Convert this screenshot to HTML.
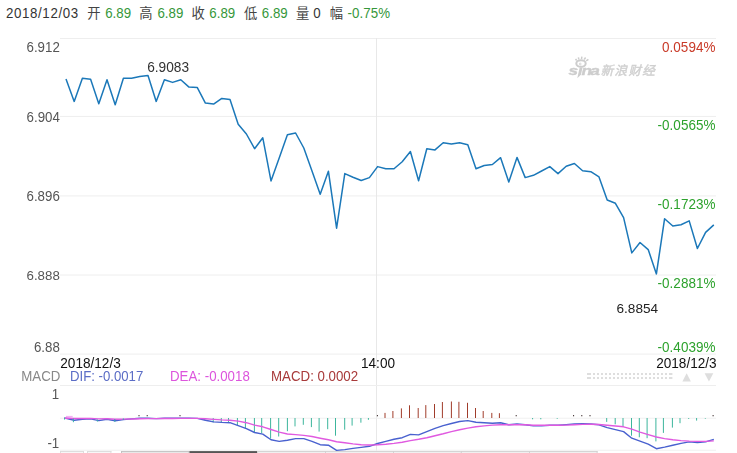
<!DOCTYPE html>
<html><head><meta charset="utf-8"><title>chart</title>
<style>
html,body{margin:0;padding:0;background:#fff;}
body{width:737px;height:453px;overflow:hidden;font-family:"Liberation Sans",sans-serif;}
svg{display:block;}
#chart{will-change:transform;}
text{font-family:"Liberation Sans",sans-serif;font-size:13.3px;}
</style></head><body>
<svg id="hdr" width="737" height="30" viewBox="0 0 737 30">
<text transform="translate(6 17.8) scale(1 1.07)" fill="#333" style="font-size:13.3px" letter-spacing="0.62">2018/12/03</text>
<text x="87.3" y="18.2" fill="#444" style="font-size:13.3px;font-family:'Liberation Sans','Noto Sans CJK SC',sans-serif">开</text>
<text transform="translate(105.2 17.8) scale(1 1.07)" fill="#35973a" style="font-size:13.3px">6.89</text>
<text x="139.3" y="18.2" fill="#444" style="font-size:13.3px;font-family:'Liberation Sans','Noto Sans CJK SC',sans-serif">高</text>
<text transform="translate(157.4 17.8) scale(1 1.07)" fill="#35973a" style="font-size:13.3px">6.89</text>
<text x="191.5" y="18.2" fill="#444" style="font-size:13.3px;font-family:'Liberation Sans','Noto Sans CJK SC',sans-serif">收</text>
<text transform="translate(209.3 17.8) scale(1 1.07)" fill="#35973a" style="font-size:13.3px">6.89</text>
<text x="244" y="18.2" fill="#444" style="font-size:13.3px;font-family:'Liberation Sans','Noto Sans CJK SC',sans-serif">低</text>
<text transform="translate(261.8 17.8) scale(1 1.07)" fill="#35973a" style="font-size:13.3px">6.89</text>
<text x="296" y="18.2" fill="#444" style="font-size:13.3px;font-family:'Liberation Sans','Noto Sans CJK SC',sans-serif">量</text>
<text transform="translate(313.3 17.8) scale(1 1.07)" fill="#333" style="font-size:13.3px">0</text>
<text x="329.8" y="18.2" fill="#444" style="font-size:13.3px;font-family:'Liberation Sans','Noto Sans CJK SC',sans-serif">幅</text>
<text transform="translate(347.6 17.8) scale(1 1.07)" fill="#35973a" style="font-size:13.3px" letter-spacing="0.05">-0.75%</text>
</svg>
<svg id="chart" width="737" height="423" viewBox="0 30 737 423">
<line x1="60" x2="716" y1="38.5" y2="38.5" stroke="#eeeeee" stroke-width="1"/>
<line x1="60" x2="716" y1="116.4" y2="116.4" stroke="#eeeeee" stroke-width="1"/>
<line x1="60" x2="716" y1="195.9" y2="195.9" stroke="#eeeeee" stroke-width="1"/>
<line x1="60" x2="716" y1="275.0" y2="275.0" stroke="#eeeeee" stroke-width="1"/>
<line x1="60" x2="716" y1="354.1" y2="354.1" stroke="#eeeeee" stroke-width="1"/>
<line x1="376.5" x2="376.5" y1="38" y2="451" stroke="#e8e8e8" stroke-width="1"/>
<line x1="60" x2="716" y1="385.5" y2="385.5" stroke="#eeeeee" stroke-width="1"/>
<line x1="60" x2="716" y1="418.2" y2="418.2" stroke="#f0f0f0" stroke-width="1"/>
<line x1="60" x2="716" y1="450.2" y2="450.2" stroke="#f0f0f0" stroke-width="1"/>
<text transform="translate(59.80 52.00) scale(1 1.090)" fill="#555" text-anchor="end" style="font-size:13.30px">6.912</text>
<text transform="translate(59.80 122.00) scale(1 1.080)" fill="#555" text-anchor="end" style="font-size:13.30px">6.904</text>
<text transform="translate(59.80 201.00) scale(1 1.090)" fill="#555" text-anchor="end" style="font-size:13.30px">6.896</text>
<text transform="translate(59.80 280.00) scale(1 1.010)" fill="#555" text-anchor="end" style="font-size:13.30px">6.888</text>
<text transform="translate(59.80 352.00) scale(1 1.090)" fill="#555" text-anchor="end" style="font-size:13.30px">6.88</text>
<text transform="translate(715.40 52.00) scale(1 1.100)" fill="#c93a28" text-anchor="end" style="font-size:13.50px">0.0594%</text>
<text transform="translate(715.40 130.00) scale(1 1.100)" fill="#2da22d" text-anchor="end" style="font-size:13.50px">-0.0565%</text>
<text transform="translate(715.40 209.00) scale(1 1.100)" fill="#2da22d" text-anchor="end" style="font-size:13.50px">-0.1723%</text>
<text transform="translate(715.40 288.10) scale(1 1.100)" fill="#2da22d" text-anchor="end" style="font-size:13.50px">-0.2881%</text>
<text transform="translate(715.40 352.00) scale(1 1.100)" fill="#2da22d" text-anchor="end" style="font-size:13.50px">-0.4039%</text>
<text transform="translate(60.30 368.00) scale(1 1.056)" fill="#111" text-anchor="start" style="font-size:13.60px">2018/12/3</text>
<text transform="translate(361.00 368.00) scale(1 1.056)" fill="#111" text-anchor="start" style="font-size:13.60px">14:00</text>
<text transform="translate(716.60 368.00) scale(1 1.056)" fill="#111" text-anchor="end" style="font-size:13.60px">2018/12/3</text>
<text transform="translate(21.30 381.00) scale(1 1.100)" fill="#888" text-anchor="start" style="font-size:13.30px">MACD</text>
<text transform="translate(70.00 381.00) scale(1 1.100)" fill="#5b6dc6" text-anchor="start" style="font-size:13.20px">DIF: -0.0017</text>
<text transform="translate(170.00 381.00) scale(1 1.100)" fill="#dd55dd" text-anchor="start" style="font-size:13.30px">DEA: -0.0018</text>
<text transform="translate(271.00 381.00) scale(1 1.100)" fill="#a83a3a" text-anchor="start" style="font-size:13.30px">MACD: 0.0002</text>
<text transform="translate(59.20 398.90) scale(1 1.080)" fill="#555" text-anchor="end" style="font-size:13.30px">1</text>
<text transform="translate(59.20 448.00) scale(1 1.080)" fill="#555" text-anchor="end" style="font-size:13.30px">-1</text>
<text transform="translate(147.20 72.00) scale(1 1.060)" fill="#333" text-anchor="start" style="font-size:13.70px">6.9083</text>
<text transform="translate(616.50 313.00) scale(1 0.965)" fill="#222" text-anchor="start" style="font-size:13.60px">6.8854</text>
<g fill="#dedede"><rect x="587.0" y="373" width="4.0" height="2"/><rect x="587.0" y="377" width="4.0" height="2"/><rect x="593.0" y="373" width="2.0" height="2"/><rect x="593.0" y="377" width="2.0" height="2"/><rect x="597.0" y="373" width="2.0" height="2"/><rect x="597.0" y="377" width="2.0" height="2"/><rect x="601.0" y="373" width="2.0" height="2"/><rect x="601.0" y="377" width="2.0" height="2"/><rect x="605.0" y="373" width="2.0" height="2"/><rect x="605.0" y="377" width="2.0" height="2"/><rect x="609.0" y="373" width="2.0" height="2"/><rect x="609.0" y="377" width="2.0" height="2"/><rect x="613.0" y="373" width="2.0" height="2"/><rect x="613.0" y="377" width="2.0" height="2"/><rect x="617.0" y="373" width="2.0" height="2"/><rect x="617.0" y="377" width="2.0" height="2"/><rect x="621.0" y="373" width="2.0" height="2"/><rect x="621.0" y="377" width="2.0" height="2"/><rect x="625.0" y="373" width="2.0" height="2"/><rect x="625.0" y="377" width="2.0" height="2"/><rect x="629.0" y="373" width="2.0" height="2"/><rect x="629.0" y="377" width="2.0" height="2"/><rect x="633.0" y="373" width="2.0" height="2"/><rect x="633.0" y="377" width="2.0" height="2"/><rect x="637.0" y="373" width="2.0" height="2"/><rect x="637.0" y="377" width="2.0" height="2"/><rect x="641.0" y="373" width="2.0" height="2"/><rect x="641.0" y="377" width="2.0" height="2"/><rect x="645.0" y="373" width="2.0" height="2"/><rect x="645.0" y="377" width="2.0" height="2"/><rect x="649.0" y="373" width="2.0" height="2"/><rect x="649.0" y="377" width="2.0" height="2"/><rect x="653.0" y="373" width="2.0" height="2"/><rect x="653.0" y="377" width="2.0" height="2"/><rect x="657.0" y="373" width="2.0" height="2"/><rect x="657.0" y="377" width="2.0" height="2"/><rect x="661.0" y="373" width="2.0" height="2"/><rect x="661.0" y="377" width="2.0" height="2"/><rect x="665.0" y="373" width="2.0" height="2"/><rect x="665.0" y="377" width="2.0" height="2"/><rect x="669.0" y="373" width="3.4" height="2"/><rect x="669.0" y="377" width="3.4" height="2"/></g>
<path d="M682.4 381.5 L690.9 381.5 L686.65 373.3 Z" fill="#dedede"/>
<path d="M704.6 373.2 L713.3 373.2 L708.95 381.4 Z" fill="#dedede"/>
<g id="wm">
<text stroke="#cdcdcd" stroke-width="0.35" transform="translate(568.6 74.6) scale(1.36 1)" x="0" y="0" fill="#cdcdcd" style="font-size:12.7px" font-weight="bold" font-style="italic">s</text>
<text stroke="#cdcdcd" stroke-width="0.35" transform="translate(581.5 74.6) scale(1.36 1)" x="0" y="0" fill="#cdcdcd" style="font-size:12.7px" font-weight="bold" font-style="italic">n</text>
<text stroke="#cdcdcd" stroke-width="0.35" transform="translate(590.2 74.6) scale(1.36 1)" x="0" y="0" fill="#cdcdcd" style="font-size:12.7px" font-weight="bold" font-style="italic">a</text>
<path d="M579.7 67.6 L582.6 67.6 L580.9 74.8 L577.3 78.3 L578.2 74.0 Z" fill="#cdcdcd"/>
<g transform="translate(581.0 63.5)" stroke="#cdcdcd" fill="none"><ellipse cx="0" cy="0" rx="4.7" ry="3.3" stroke-width="2.0"/><circle cx="-0.8" cy="0.5" r="0.9" stroke-width="0.8"/><path d="M-4.4 -3.0 L-5.4 -4.6 M-2.2 -4.2 L-2.6 -6.2 M0.5 -4.5 L0.9 -6.9 M3.2 -4.0 L4.6 -6.0 M5.2 -2.6 L7.4 -4.2" stroke-width="1.5"/></g>
<text transform="translate(600.80 74.5) skewX(-14)" x="0" y="0" fill="#d0d0d0" stroke="#d0d0d0" stroke-width="0.43" style="font-size:12.6px;font-family:'Liberation Sans','Noto Sans CJK SC',sans-serif">新</text>
<text transform="translate(614.60 74.5) skewX(-14)" x="0" y="0" fill="#d0d0d0" stroke="#d0d0d0" stroke-width="0.43" style="font-size:12.6px;font-family:'Liberation Sans','Noto Sans CJK SC',sans-serif">浪</text>
<text transform="translate(628.40 74.5) skewX(-14)" x="0" y="0" fill="#d0d0d0" stroke="#d0d0d0" stroke-width="0.43" style="font-size:12.6px;font-family:'Liberation Sans','Noto Sans CJK SC',sans-serif">财</text>
<text transform="translate(642.20 74.5) skewX(-14)" x="0" y="0" fill="#d0d0d0" stroke="#d0d0d0" stroke-width="0.43" style="font-size:12.6px;font-family:'Liberation Sans','Noto Sans CJK SC',sans-serif">经</text>
</g>
<polyline fill="none" stroke="#1b78b9" stroke-width="1.5" stroke-linejoin="round" points="66.0,79.0 74.2,101.4 82.4,78.3 90.6,79.3 98.8,103.7 107.0,79.7 115.2,104.8 123.4,78.3 131.6,78.3 139.8,76.6 148.0,75.6 156.2,101.4 164.4,79.7 172.6,82.4 180.8,79.7 189.0,87.1 197.2,87.4 205.4,103.1 213.6,104.1 221.8,98.4 230.0,99.4 238.2,124.2 246.4,134.0 254.6,148.7 262.8,137.8 271.0,180.9 279.2,158.0 287.4,134.7 295.6,133.0 303.8,148.0 312.0,171.1 320.2,194.2 328.4,171.2 336.6,228.2 344.8,173.6 353.0,177.2 361.2,180.5 369.4,177.6 377.6,166.6 385.8,168.8 394.0,168.8 402.2,161.8 410.4,151.5 418.6,180.8 426.8,148.7 435.0,149.9 443.2,142.7 451.4,144.0 459.6,142.7 467.8,144.7 476.0,168.8 484.2,165.5 492.4,164.5 500.6,157.7 508.8,182.1 517.0,157.4 525.2,177.6 533.4,175.3 541.6,171.0 549.8,166.6 558.0,173.6 566.2,166.3 574.4,163.5 582.6,170.7 590.8,171.7 599.0,176.9 607.2,200.0 615.4,203.3 623.6,217.6 631.8,252.9 640.0,242.5 648.2,249.6 656.4,273.9 664.6,218.7 672.8,226.0 681.0,224.7 689.2,220.9 697.4,248.5 705.6,232.4 713.8,224.9"/>
<line x1="139.0" x2="139.0" y1="415.0" y2="416.3" stroke="#3a2a2a" stroke-width="1"/>
<line x1="147.2" x2="147.2" y1="415.0" y2="416.3" stroke="#3a2a2a" stroke-width="1"/>
<line x1="180.0" x2="180.0" y1="415.0" y2="416.3" stroke="#3a2a2a" stroke-width="1"/>
<line x1="204.7" x2="204.7" y1="418.0" y2="420.2" stroke="#3cb69c" stroke-width="1"/>
<line x1="213.2" x2="213.2" y1="418.0" y2="422.4" stroke="#3cb69c" stroke-width="1"/>
<line x1="221.3" x2="221.3" y1="418.0" y2="422.4" stroke="#3cb69c" stroke-width="1"/>
<line x1="228.5" x2="228.5" y1="418.0" y2="421.9" stroke="#3cb69c" stroke-width="1"/>
<line x1="237.4" x2="237.4" y1="418.0" y2="425.6" stroke="#3cb69c" stroke-width="1"/>
<line x1="245.4" x2="245.4" y1="418.0" y2="428.7" stroke="#3cb69c" stroke-width="1"/>
<line x1="254.4" x2="254.4" y1="418.0" y2="432.1" stroke="#3cb69c" stroke-width="1"/>
<line x1="261.7" x2="261.7" y1="418.0" y2="433.3" stroke="#3cb69c" stroke-width="1"/>
<line x1="270.6" x2="270.6" y1="418.0" y2="438.6" stroke="#3cb69c" stroke-width="1"/>
<line x1="278.7" x2="278.7" y1="418.0" y2="436.5" stroke="#3cb69c" stroke-width="1"/>
<line x1="287.4" x2="287.4" y1="418.0" y2="431.2" stroke="#3cb69c" stroke-width="1"/>
<line x1="295.0" x2="295.0" y1="418.0" y2="426.4" stroke="#3cb69c" stroke-width="1"/>
<line x1="303.3" x2="303.3" y1="418.0" y2="424.8" stroke="#3cb69c" stroke-width="1"/>
<line x1="311.4" x2="311.4" y1="418.0" y2="427.1" stroke="#3cb69c" stroke-width="1"/>
<line x1="319.1" x2="319.1" y1="418.0" y2="431.6" stroke="#3cb69c" stroke-width="1"/>
<line x1="327.7" x2="327.7" y1="418.0" y2="429.2" stroke="#3cb69c" stroke-width="1"/>
<line x1="335.5" x2="335.5" y1="418.0" y2="435.7" stroke="#3cb69c" stroke-width="1"/>
<line x1="344.7" x2="344.7" y1="418.0" y2="429.7" stroke="#3cb69c" stroke-width="1"/>
<line x1="352.1" x2="352.1" y1="418.0" y2="425.6" stroke="#3cb69c" stroke-width="1"/>
<line x1="360.9" x2="360.9" y1="418.0" y2="422.7" stroke="#3cb69c" stroke-width="1"/>
<line x1="368.4" x2="368.4" y1="418.0" y2="419.8" stroke="#3cb69c" stroke-width="1"/>
<line x1="377.4" x2="377.4" y1="415.0" y2="416.3" stroke="#3a2a2a" stroke-width="1"/>
<line x1="385.0" x2="385.0" y1="412.9" y2="418.0" stroke="#a03c2a" stroke-width="1"/>
<line x1="392.9" x2="392.9" y1="411.0" y2="418.0" stroke="#a03c2a" stroke-width="1"/>
<line x1="401.4" x2="401.4" y1="408.4" y2="418.0" stroke="#a03c2a" stroke-width="1"/>
<line x1="409.5" x2="409.5" y1="405.3" y2="418.0" stroke="#a03c2a" stroke-width="1"/>
<line x1="418.2" x2="418.2" y1="408.0" y2="418.0" stroke="#a03c2a" stroke-width="1"/>
<line x1="425.8" x2="425.8" y1="405.1" y2="418.0" stroke="#a03c2a" stroke-width="1"/>
<line x1="434.5" x2="434.5" y1="404.0" y2="418.0" stroke="#a03c2a" stroke-width="1"/>
<line x1="442.4" x2="442.4" y1="402.0" y2="418.0" stroke="#a03c2a" stroke-width="1"/>
<line x1="451.4" x2="451.4" y1="401.5" y2="418.0" stroke="#a03c2a" stroke-width="1"/>
<line x1="458.9" x2="458.9" y1="401.8" y2="418.0" stroke="#a03c2a" stroke-width="1"/>
<line x1="467.5" x2="467.5" y1="402.8" y2="418.0" stroke="#a03c2a" stroke-width="1"/>
<line x1="475.5" x2="475.5" y1="408.0" y2="418.0" stroke="#a03c2a" stroke-width="1"/>
<line x1="483.2" x2="483.2" y1="411.0" y2="418.0" stroke="#a03c2a" stroke-width="1"/>
<line x1="491.8" x2="491.8" y1="412.9" y2="418.0" stroke="#a03c2a" stroke-width="1"/>
<line x1="499.4" x2="499.4" y1="413.2" y2="418.0" stroke="#a03c2a" stroke-width="1"/>
<line x1="516.2" x2="516.2" y1="415.0" y2="416.3" stroke="#3a2a2a" stroke-width="1"/>
<line x1="532.6" x2="532.6" y1="418.0" y2="419.3" stroke="#3cb69c" stroke-width="1"/>
<line x1="540.8" x2="540.8" y1="418.0" y2="419.3" stroke="#3cb69c" stroke-width="1"/>
<line x1="557.2" x2="557.2" y1="418.0" y2="418.8" stroke="#3cb69c" stroke-width="1"/>
<line x1="573.6" x2="573.6" y1="415.0" y2="416.3" stroke="#3a2a2a" stroke-width="1"/>
<line x1="581.8" x2="581.8" y1="415.0" y2="416.3" stroke="#3a2a2a" stroke-width="1"/>
<line x1="590.0" x2="590.0" y1="415.0" y2="416.3" stroke="#3a2a2a" stroke-width="1"/>
<line x1="606.7" x2="606.7" y1="418.0" y2="421.9" stroke="#3cb69c" stroke-width="1"/>
<line x1="615.2" x2="615.2" y1="418.0" y2="424.3" stroke="#3cb69c" stroke-width="1"/>
<line x1="623.0" x2="623.0" y1="418.0" y2="426.8" stroke="#3cb69c" stroke-width="1"/>
<line x1="631.5" x2="631.5" y1="418.0" y2="435.7" stroke="#3cb69c" stroke-width="1"/>
<line x1="639.3" x2="639.3" y1="418.0" y2="437.3" stroke="#3cb69c" stroke-width="1"/>
<line x1="647.1" x2="647.1" y1="418.0" y2="438.2" stroke="#3cb69c" stroke-width="1"/>
<line x1="655.9" x2="655.9" y1="418.0" y2="441.4" stroke="#3cb69c" stroke-width="1"/>
<line x1="663.4" x2="663.4" y1="418.0" y2="432.9" stroke="#3cb69c" stroke-width="1"/>
<line x1="672.4" x2="672.4" y1="418.0" y2="427.6" stroke="#3cb69c" stroke-width="1"/>
<line x1="680.0" x2="680.0" y1="418.0" y2="423.2" stroke="#3cb69c" stroke-width="1"/>
<line x1="688.7" x2="688.7" y1="418.0" y2="418.9" stroke="#3cb69c" stroke-width="1"/>
<line x1="696.6" x2="696.6" y1="418.0" y2="420.6" stroke="#3cb69c" stroke-width="1"/>
<line x1="705.3" x2="705.3" y1="418.0" y2="418.7" stroke="#3cb69c" stroke-width="1"/>
<line x1="713.1" x2="713.1" y1="415.0" y2="416.3" stroke="#3a2a2a" stroke-width="1"/>
<polyline fill="none" stroke="#4961cf" stroke-width="1.4" stroke-linejoin="round" points="64.4,418.2 66.0,418.4 74.2,420.3 82.4,419.2 90.6,418.9 98.8,420.6 107.0,419.3 115.2,420.8 123.4,419.6 131.6,418.9 139.8,418.3 148.0,418.2 156.2,418.6 164.4,418.3 172.6,418.3 180.8,418.2 189.0,418.3 197.2,418.4 205.4,420.2 213.6,421.9 221.8,422.4 230.0,422.7 238.2,425.6 246.4,428.7 254.6,432.5 262.8,434.1 271.0,439.8 279.2,441.4 287.4,440.2 295.6,438.6 303.8,438.6 312.0,441.4 320.2,444.7 328.4,445.2 336.6,450.4 344.8,449.6 353.0,448.4 361.2,447.4 369.4,446.3 377.6,443.5 385.8,441.4 394.0,439.3 402.2,437.7 410.4,434.4 418.6,434.9 426.8,431.6 435.0,428.4 443.2,425.6 451.4,423.5 459.6,421.5 467.8,420.6 476.0,422.2 484.2,422.7 492.4,423.2 500.6,422.7 508.8,424.8 517.0,424.0 525.2,424.8 533.4,425.9 541.6,425.9 549.8,425.3 558.0,425.3 566.2,424.6 574.4,424.0 582.6,423.8 590.8,424.0 599.0,424.8 607.2,427.6 615.4,429.6 623.6,431.6 631.8,438.2 640.0,441.1 648.2,444.2 656.4,448.7 664.6,447.1 672.8,445.2 681.0,443.4 689.2,441.9 697.4,442.6 705.6,441.9 713.8,439.3"/>
<polyline fill="none" stroke="#e05ae0" stroke-width="1.4" stroke-linejoin="round" points="64.4,418.2 66.0,418.0 74.2,418.5 82.4,418.5 90.6,418.4 98.8,418.9 107.0,418.8 115.2,419.2 123.4,419.1 131.6,419.0 139.8,418.8 148.0,418.6 156.2,418.6 164.4,418.5 172.6,418.5 180.8,418.4 189.0,418.4 197.2,418.4 205.4,418.8 213.6,419.4 221.8,419.9 230.0,420.2 238.2,421.1 246.4,422.7 254.6,425.1 262.8,426.8 271.0,429.5 279.2,432.1 287.4,434.0 295.6,434.6 303.8,435.4 312.0,436.5 320.2,438.2 328.4,439.8 336.6,441.7 344.8,442.7 353.0,443.9 361.2,444.7 369.4,445.0 377.6,444.7 385.8,444.2 394.0,443.4 402.2,442.2 410.4,440.6 418.6,439.3 426.8,437.8 435.0,435.7 443.2,433.8 451.4,431.6 459.6,429.7 467.8,428.1 476.0,426.8 484.2,425.9 492.4,425.1 500.6,424.8 508.8,424.8 517.0,424.7 525.2,424.8 533.4,425.2 541.6,425.3 549.8,425.3 558.0,425.3 566.2,425.1 574.4,424.7 582.6,424.4 590.8,424.3 599.0,424.5 607.2,425.3 615.4,426.0 623.6,426.8 631.8,429.2 640.0,432.1 648.2,434.6 656.4,437.0 664.6,438.6 672.8,439.8 681.0,440.6 689.2,441.1 697.4,441.4 705.6,441.4 713.8,440.9"/>
<line x1="66" x2="72.7" y1="416.4" y2="416.4" stroke="#f3a6f3" stroke-width="1"/>
<line x1="64.6" x2="64.6" y1="417.5" y2="419.6" stroke="#35b0a8" stroke-width="1"/>
<line x1="73.4" x2="73.4" y1="418.6" y2="422.2" stroke="#35b0a8" stroke-width="1"/>
<line x1="97.4" x2="97.4" y1="419.6" y2="421.6" stroke="#35b0a8" stroke-width="1"/>
<line x1="114.8" x2="114.8" y1="419.0" y2="421.9" stroke="#35b0a8" stroke-width="1"/>
<line x1="123.3" x2="123.3" y1="418.4" y2="420.0" stroke="#35b0a8" stroke-width="1"/>
<rect x="60.0" y="451.1" width="24.0" height="1.9" fill="#fafafa"/>
<rect x="60.0" y="451.1" width="24.0" height="1" fill="#dcdcdc"/>
<rect x="60.0" y="451.1" width="1" height="1.9" fill="#dcdcdc"/>
<rect x="83.0" y="451.1" width="1" height="1.9" fill="#dcdcdc"/>
<rect x="87.0" y="451.1" width="24.4" height="1.9" fill="#fafafa"/>
<rect x="87.0" y="451.1" width="24.4" height="1" fill="#dcdcdc"/>
<rect x="87.0" y="451.1" width="1" height="1.9" fill="#dcdcdc"/>
<rect x="110.4" y="451.1" width="1" height="1.9" fill="#dcdcdc"/>
<rect x="121.0" y="451.1" width="68.5" height="1.9" fill="#ececec"/>
<rect x="121.0" y="451.1" width="68.5" height="1" fill="#c2c2c2"/>
<rect x="121.0" y="451.1" width="1" height="1.9" fill="#c2c2c2"/>
<rect x="188.5" y="451.1" width="1" height="1.9" fill="#c2c2c2"/>
<rect x="189.5" y="451.1" width="67.6" height="1.9" fill="#555"/>
<rect x="257.1" y="451.1" width="68.9" height="1.9" fill="#f3f3f3"/>
<rect x="257.1" y="451.1" width="68.9" height="1" fill="#d2d2d2"/>
<rect x="257.1" y="451.1" width="1" height="1.9" fill="#d2d2d2"/>
<rect x="325.0" y="451.1" width="1" height="1.9" fill="#d2d2d2"/>
<rect x="325.0" y="451.1" width="69.0" height="1.9" fill="#f3f3f3"/>
<rect x="325.0" y="451.1" width="69.0" height="1" fill="#d2d2d2"/>
<rect x="325.0" y="451.1" width="1" height="1.9" fill="#d2d2d2"/>
<rect x="393.0" y="451.1" width="1" height="1.9" fill="#d2d2d2"/>
<rect x="393.0" y="451.1" width="68.8" height="1.9" fill="#f3f3f3"/>
<rect x="393.0" y="451.1" width="68.8" height="1" fill="#d2d2d2"/>
<rect x="393.0" y="451.1" width="1" height="1.9" fill="#d2d2d2"/>
<rect x="460.8" y="451.1" width="1" height="1.9" fill="#d2d2d2"/>
<rect x="460.8" y="451.1" width="69.2" height="1.9" fill="#f3f3f3"/>
<rect x="460.8" y="451.1" width="69.2" height="1" fill="#d2d2d2"/>
<rect x="460.8" y="451.1" width="1" height="1.9" fill="#d2d2d2"/>
<rect x="529.0" y="451.1" width="1" height="1.9" fill="#d2d2d2"/>
<rect x="529.0" y="451.1" width="68.6" height="1.9" fill="#f3f3f3"/>
<rect x="529.0" y="451.1" width="68.6" height="1" fill="#d2d2d2"/>
<rect x="529.0" y="451.1" width="1" height="1.9" fill="#d2d2d2"/>
<rect x="596.6" y="451.1" width="1" height="1.9" fill="#d2d2d2"/>
</svg></body></html>
